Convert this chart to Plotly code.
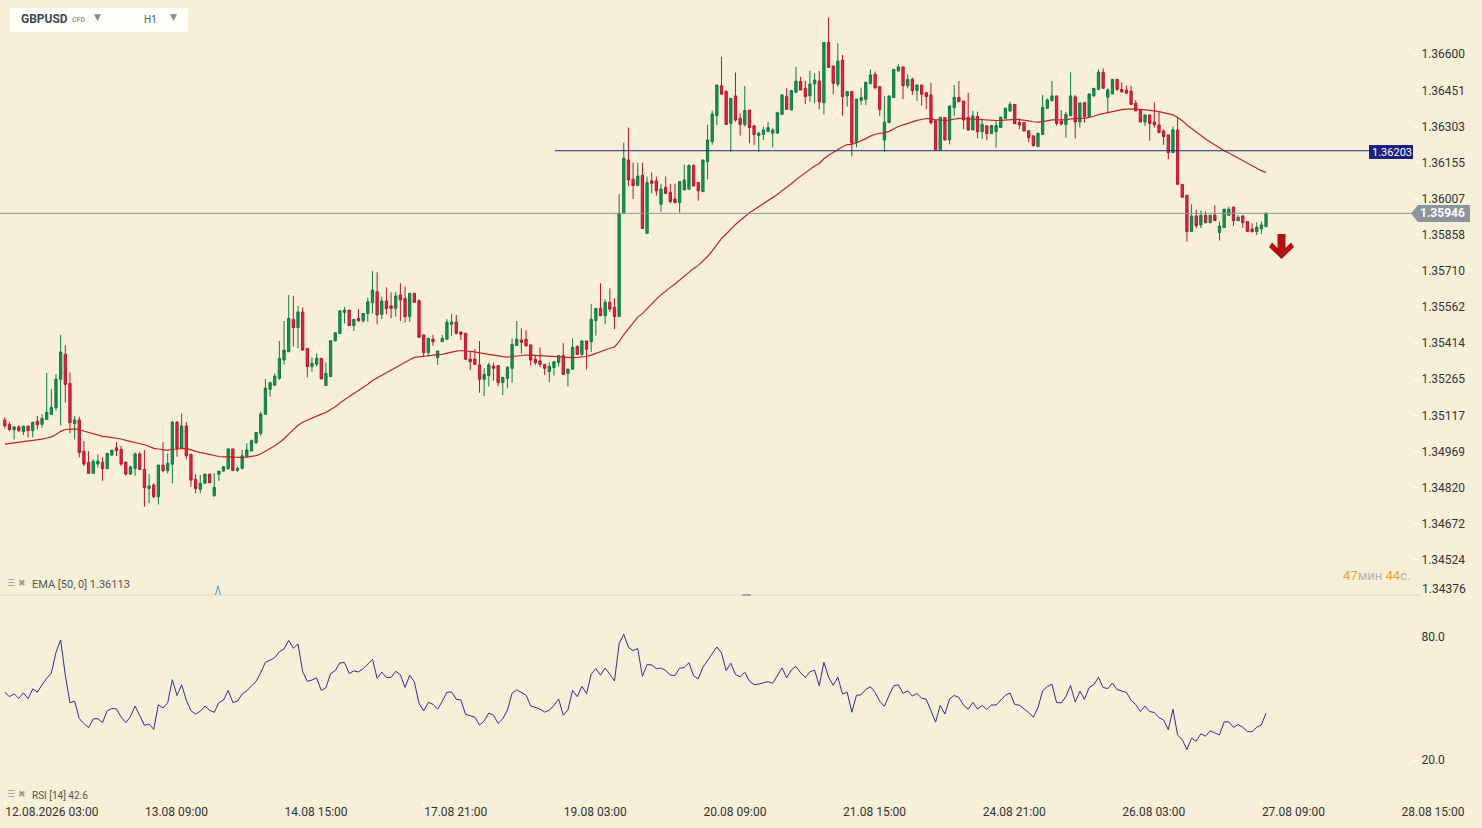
import numpy as np
import plotly.graph_objects as go

# --- H1 GBPUSD candles, 12.08.2026 03:00 onwards (weekend hours skipped) ---
OPEN = [
    1.35098, 1.35080, 1.35058, 1.35069, 1.35050, 1.35073, 1.35054, 1.35093, 1.35080, 1.35100,
    1.35121, 1.35148, 1.35265, 1.35368, 1.35248, 1.35083, 1.35098, 1.34970, 1.34924, 1.34879,
    1.34917, 1.34924, 1.34898, 1.34954, 1.34984, 1.34977, 1.34924, 1.34876, 1.34898, 1.34958,
    1.34895, 1.34817, 1.34831, 1.34783, 1.34913, 1.34890, 1.34916, 1.35089, 1.34981, 1.35073,
    1.34957, 1.34854, 1.34813, 1.34838, 1.34876, 1.34787, 1.34875, 1.34888, 1.34897, 1.34979,
    1.34890, 1.34899, 1.34947, 1.34970, 1.35005, 1.35043, 1.35121, 1.35224, 1.35241, 1.35269,
    1.35344, 1.35378, 1.35511, 1.35477, 1.35541, 1.35392, 1.35317, 1.35327, 1.35351, 1.35239,
    1.35276, 1.35422, 1.35453, 1.35539, 1.35549, 1.35485, 1.35515, 1.35505, 1.35535, 1.35579,
    1.35624, 1.35531, 1.35586, 1.35566, 1.35556, 1.35611, 1.35597, 1.35522, 1.35618, 1.35587,
    1.35447, 1.35374, 1.35430, 1.35354, 1.35419, 1.35429, 1.35491, 1.35500, 1.35459, 1.35454,
    1.35348, 1.35348, 1.35324, 1.35265, 1.35280, 1.35319, 1.35321, 1.35252, 1.35269, 1.35310,
    1.35403, 1.35426, 1.35429, 1.35406, 1.35347, 1.35340, 1.35326, 1.35296, 1.35313, 1.35334,
    1.35362, 1.35289, 1.35306, 1.35399, 1.35367, 1.35422, 1.35419, 1.35505, 1.35556, 1.35526,
    1.35581, 1.35560, 1.35522, 1.35946, 1.36165, 1.36086, 1.36060, 1.36102, 1.35864, 1.36079,
    1.36079, 1.35983, 1.36053, 1.36032, 1.36005, 1.35990, 1.36042, 1.36045, 1.36142, 1.36073,
    1.36035, 1.36158, 1.36240, 1.36347, 1.36470, 1.36446, 1.36316, 1.36428, 1.36336, 1.36311,
    1.36370, 1.36305, 1.36265, 1.36270, 1.36281, 1.36275, 1.36275, 1.36352, 1.36425, 1.36370,
    1.36443, 1.36487, 1.36459, 1.36429, 1.36477, 1.36489, 1.36400, 1.36647, 1.36551, 1.36476,
    1.36575, 1.36428, 1.36446, 1.36236, 1.36410, 1.36414, 1.36478, 1.36517, 1.36466, 1.36247,
    1.36318, 1.36421, 1.36530, 1.36547, 1.36470, 1.36496, 1.36450, 1.36473, 1.36441, 1.36432,
    1.36326, 1.36206, 1.36339, 1.36247, 1.36380, 1.36422, 1.36407, 1.36340, 1.36288, 1.36343,
    1.36281, 1.36305, 1.36273, 1.36281, 1.36298, 1.36336, 1.36366, 1.36393, 1.36319, 1.36319,
    1.36285, 1.36264, 1.36220, 1.36270, 1.36377, 1.36408, 1.36428, 1.36325, 1.36311, 1.36346,
    1.36424, 1.36321, 1.36400, 1.36343, 1.36429, 1.36455, 1.36525, 1.36422, 1.36436, 1.36496,
    1.36455, 1.36452, 1.36448, 1.36398, 1.36370, 1.36321, 1.36350, 1.36321, 1.36309, 1.36284,
    1.36268, 1.36195, 1.36288, 1.36065, 1.36020, 1.35871, 1.35935, 1.35898, 1.35938, 1.35908,
    1.35939, 1.35867, 1.35887, 1.35938, 1.35972, 1.35916, 1.35935, 1.35912, 1.35882, 1.35871,
    1.35882, 1.35891,
]
HIGH = [
    1.35109, 1.35089, 1.35073, 1.35076, 1.35073, 1.35073, 1.35091, 1.35114, 1.35121, 1.35292,
    1.35225, 1.35286, 1.35447, 1.35405, 1.35293, 1.35114, 1.35111, 1.35011, 1.34970, 1.34936,
    1.34957, 1.34944, 1.34961, 1.34974, 1.35007, 1.34991, 1.34929, 1.34911, 1.34965, 1.34966,
    1.34974, 1.34876, 1.34838, 1.34913, 1.35007, 1.34961, 1.35093, 1.35093, 1.35125, 1.35089,
    1.34957, 1.34875, 1.34872, 1.34876, 1.34876, 1.34879, 1.34888, 1.34909, 1.34979, 1.34979,
    1.34906, 1.34975, 1.35002, 1.35018, 1.35047, 1.35132, 1.35266, 1.35255, 1.35289, 1.35422,
    1.35504, 1.35611, 1.35607, 1.35566, 1.35560, 1.35392, 1.35355, 1.35371, 1.35351, 1.35334,
    1.35426, 1.35456, 1.35546, 1.35561, 1.35549, 1.35511, 1.35552, 1.35535, 1.35600, 1.35709,
    1.35704, 1.35604, 1.35642, 1.35622, 1.35624, 1.35659, 1.35645, 1.35618, 1.35618, 1.35593,
    1.35447, 1.35433, 1.35447, 1.35381, 1.35447, 1.35511, 1.35533, 1.35529, 1.35459, 1.35454,
    1.35378, 1.35389, 1.35422, 1.35310, 1.35333, 1.35333, 1.35321, 1.35273, 1.35319, 1.35432,
    1.35504, 1.35474, 1.35467, 1.35406, 1.35361, 1.35396, 1.35326, 1.35334, 1.35337, 1.35365,
    1.35413, 1.35310, 1.35433, 1.35404, 1.35426, 1.35422, 1.35573, 1.35556, 1.35659, 1.35593,
    1.35638, 1.35597, 1.36025, 1.36236, 1.36298, 1.36154, 1.36154, 1.36154, 1.36097, 1.36114,
    1.36097, 1.36067, 1.36097, 1.36067, 1.36067, 1.36076, 1.36147, 1.36147, 1.36147, 1.36073,
    1.36165, 1.36309, 1.36368, 1.36473, 1.36589, 1.36452, 1.36418, 1.36524, 1.36357, 1.36469,
    1.36370, 1.36309, 1.36281, 1.36302, 1.36322, 1.36295, 1.36363, 1.36435, 1.36459, 1.36452,
    1.36548, 1.36507, 1.36489, 1.36530, 1.36521, 1.36530, 1.36647, 1.36751, 1.36551, 1.36644,
    1.36596, 1.36446, 1.36446, 1.36415, 1.36462, 1.36484, 1.36537, 1.36528, 1.36466, 1.36428,
    1.36428, 1.36537, 1.36558, 1.36547, 1.36517, 1.36503, 1.36473, 1.36473, 1.36441, 1.36482,
    1.36326, 1.36340, 1.36339, 1.36387, 1.36473, 1.36489, 1.36407, 1.36441, 1.36367, 1.36363,
    1.36332, 1.36305, 1.36307, 1.36325, 1.36341, 1.36381, 1.36404, 1.36393, 1.36336, 1.36319,
    1.36288, 1.36264, 1.36278, 1.36432, 1.36418, 1.36489, 1.36428, 1.36370, 1.36363, 1.36525,
    1.36432, 1.36399, 1.36404, 1.36439, 1.36459, 1.36537, 1.36541, 1.36459, 1.36496, 1.36496,
    1.36484, 1.36470, 1.36469, 1.36411, 1.36370, 1.36350, 1.36350, 1.36402, 1.36366, 1.36291,
    1.36268, 1.36302, 1.36340, 1.36065, 1.36020, 1.35983, 1.35960, 1.35957, 1.35953, 1.35938,
    1.35979, 1.35912, 1.35965, 1.35973, 1.35972, 1.35938, 1.35939, 1.35912, 1.35905, 1.35909,
    1.35912, 1.35950,
]
LOW = [
    1.35063, 1.35052, 1.35018, 1.35048, 1.35036, 1.35026, 1.35026, 1.35059, 1.35066, 1.35100,
    1.35121, 1.35136, 1.35076, 1.35169, 1.35043, 1.35018, 1.34944, 1.34909, 1.34879, 1.34879,
    1.34903, 1.34848, 1.34898, 1.34950, 1.34950, 1.34909, 1.34869, 1.34872, 1.34869, 1.34895,
    1.34742, 1.34756, 1.34776, 1.34751, 1.34883, 1.34879, 1.34838, 1.34947, 1.34981, 1.34936,
    1.34824, 1.34797, 1.34797, 1.34838, 1.34840, 1.34783, 1.34847, 1.34886, 1.34897, 1.34890,
    1.34886, 1.34895, 1.34947, 1.34970, 1.34999, 1.35032, 1.35121, 1.35193, 1.35237, 1.35262,
    1.35326, 1.35378, 1.35399, 1.35392, 1.35382, 1.35273, 1.35296, 1.35317, 1.35266, 1.35239,
    1.35276, 1.35422, 1.35453, 1.35494, 1.35485, 1.35463, 1.35501, 1.35497, 1.35501, 1.35535,
    1.35490, 1.35512, 1.35531, 1.35515, 1.35522, 1.35504, 1.35497, 1.35501, 1.35581, 1.35437,
    1.35358, 1.35358, 1.35403, 1.35324, 1.35419, 1.35429, 1.35443, 1.35449, 1.35426, 1.35344,
    1.35303, 1.35324, 1.35210, 1.35196, 1.35235, 1.35259, 1.35237, 1.35200, 1.35228, 1.35251,
    1.35403, 1.35371, 1.35399, 1.35321, 1.35324, 1.35314, 1.35282, 1.35252, 1.35280, 1.35317,
    1.35285, 1.35235, 1.35303, 1.35365, 1.35361, 1.35306, 1.35376, 1.35444, 1.35526, 1.35491,
    1.35542, 1.35471, 1.35522, 1.35946, 1.36058, 1.36005, 1.36060, 1.35884, 1.35864, 1.36028,
    1.36019, 1.35953, 1.36026, 1.35987, 1.35987, 1.35949, 1.36042, 1.36045, 1.36058, 1.35998,
    1.36035, 1.36086, 1.36227, 1.36309, 1.36435, 1.36311, 1.36199, 1.36322, 1.36265, 1.36302,
    1.36234, 1.36227, 1.36199, 1.36247, 1.36281, 1.36217, 1.36275, 1.36352, 1.36373, 1.36370,
    1.36443, 1.36452, 1.36394, 1.36404, 1.36398, 1.36373, 1.36352, 1.36545, 1.36435, 1.36466,
    1.36347, 1.36384, 1.36179, 1.36217, 1.36391, 1.36391, 1.36478, 1.36455, 1.36346, 1.36199,
    1.36318, 1.36421, 1.36530, 1.36415, 1.36459, 1.36432, 1.36408, 1.36388, 1.36374, 1.36309,
    1.36206, 1.36206, 1.36247, 1.36229, 1.36346, 1.36404, 1.36291, 1.36285, 1.36288, 1.36254,
    1.36251, 1.36246, 1.36273, 1.36216, 1.36298, 1.36336, 1.36363, 1.36314, 1.36292, 1.36284,
    1.36238, 1.36220, 1.36220, 1.36267, 1.36374, 1.36408, 1.36306, 1.36306, 1.36257, 1.36346,
    1.36253, 1.36298, 1.36318, 1.36343, 1.36422, 1.36455, 1.36459, 1.36361, 1.36436, 1.36448,
    1.36441, 1.36439, 1.36393, 1.36366, 1.36321, 1.36304, 1.36244, 1.36298, 1.36277, 1.36227,
    1.36168, 1.36195, 1.36065, 1.36012, 1.35830, 1.35871, 1.35885, 1.35885, 1.35905, 1.35905,
    1.35916, 1.35834, 1.35887, 1.35938, 1.35894, 1.35916, 1.35887, 1.35871, 1.35867, 1.35857,
    1.35861, 1.35891,
]
CLOSE = [
    1.35074, 1.35059, 1.35069, 1.35054, 1.35073, 1.35054, 1.35088, 1.35078, 1.35104, 1.35129,
    1.35150, 1.35265, 1.35377, 1.35244, 1.35087, 1.35098, 1.34964, 1.34917, 1.34879, 1.34928,
    1.34929, 1.34898, 1.34961, 1.34974, 1.34972, 1.34917, 1.34876, 1.34905, 1.34958, 1.34895,
    1.34820, 1.34827, 1.34783, 1.34913, 1.34890, 1.34920, 1.35089, 1.34981, 1.35073, 1.34951,
    1.34851, 1.34817, 1.34838, 1.34876, 1.34840, 1.34821, 1.34888, 1.34906, 1.34979, 1.34890,
    1.34899, 1.34951, 1.34975, 1.35013, 1.35047, 1.35122, 1.35228, 1.35251, 1.35278, 1.35351,
    1.35385, 1.35515, 1.35477, 1.35541, 1.35385, 1.35317, 1.35330, 1.35351, 1.35266, 1.35289,
    1.35423, 1.35456, 1.35546, 1.35549, 1.35485, 1.35511, 1.35505, 1.35535, 1.35583, 1.35631,
    1.35529, 1.35586, 1.35556, 1.35556, 1.35607, 1.35590, 1.35522, 1.35618, 1.35581, 1.35437,
    1.35374, 1.35433, 1.35419, 1.35381, 1.35433, 1.35499, 1.35500, 1.35454, 1.35449, 1.35347,
    1.35337, 1.35326, 1.35265, 1.35285, 1.35324, 1.35310, 1.35252, 1.35273, 1.35314, 1.35408,
    1.35429, 1.35417, 1.35402, 1.35344, 1.35333, 1.35326, 1.35310, 1.35317, 1.35337, 1.35362,
    1.35285, 1.35306, 1.35396, 1.35367, 1.35422, 1.35388, 1.35511, 1.35556, 1.35526, 1.35581,
    1.35553, 1.35522, 1.35946, 1.36172, 1.36083, 1.36060, 1.36099, 1.35884, 1.36072, 1.36069,
    1.36038, 1.36046, 1.36028, 1.35994, 1.35990, 1.36076, 1.36083, 1.36142, 1.36058, 1.36038,
    1.36165, 1.36247, 1.36354, 1.36473, 1.36435, 1.36311, 1.36418, 1.36329, 1.36311, 1.36368,
    1.36298, 1.36270, 1.36275, 1.36288, 1.36298, 1.36288, 1.36359, 1.36432, 1.36373, 1.36450,
    1.36489, 1.36452, 1.36425, 1.36477, 1.36493, 1.36404, 1.36647, 1.36545, 1.36480, 1.36571,
    1.36425, 1.36446, 1.36234, 1.36415, 1.36421, 1.36484, 1.36514, 1.36462, 1.36373, 1.36320,
    1.36428, 1.36537, 1.36547, 1.36470, 1.36496, 1.36450, 1.36473, 1.36435, 1.36425, 1.36318,
    1.36206, 1.36340, 1.36247, 1.36387, 1.36422, 1.36404, 1.36329, 1.36288, 1.36346, 1.36281,
    1.36311, 1.36273, 1.36307, 1.36307, 1.36341, 1.36377, 1.36393, 1.36314, 1.36309, 1.36284,
    1.36257, 1.36224, 1.36274, 1.36381, 1.36411, 1.36428, 1.36315, 1.36313, 1.36352, 1.36428,
    1.36321, 1.36399, 1.36343, 1.36436, 1.36459, 1.36525, 1.36459, 1.36452, 1.36496, 1.36455,
    1.36445, 1.36439, 1.36393, 1.36366, 1.36321, 1.36350, 1.36315, 1.36309, 1.36277, 1.36261,
    1.36195, 1.36289, 1.36065, 1.36012, 1.35871, 1.35935, 1.35895, 1.35938, 1.35908, 1.35938,
    1.35916, 1.35894, 1.35963, 1.35963, 1.35916, 1.35930, 1.35908, 1.35871, 1.35871, 1.35889,
    1.35898, 1.35946,
]

X_LABELS = ["12.08.2026 03:00", "13.08 09:00", "14.08 15:00", "17.08 21:00", "19.08 03:00",
            "20.08 09:00", "21.08 15:00", "24.08 21:00", "26.08 03:00", "27.08 09:00", "28.08 15:00"]
LABEL_STEP = 30  # one label every 30 hourly bars
PRICE_TICKS = [1.36600, 1.36451, 1.36303, 1.36155, 1.36007, 1.35858, 1.35710, 1.35562,
               1.35414, 1.35265, 1.35117, 1.34969, 1.34820, 1.34672, 1.34524]
RSI_TICKS = [20, 80]

LAST_PRICE = 1.35946
TREND_LEVEL = 1.36203
TREND_START = 118.2          # bar index where the drawn level starts
EMA_START = 1.34999          # EMA value at the first visible bar
RSI_SEED = (0.000150, 0.000133)  # Wilder avg gain / loss before first bar

BG = "#f7efd8"
W, H, PLOT_W = 1482, 828, 1412


def px(x):
    return x / PLOT_W


def py(y):
    return 1 - y / H


close = np.array(CLOSE)
idx = np.arange(len(close))

# EMA 50
alpha = 2 / 51
ema = np.empty_like(close)
ema[0] = EMA_START
for i in range(1, len(close)):
    ema[i] = ema[i - 1] + alpha * (close[i] - ema[i - 1])

# RSI 14 (Wilder)
g, l = RSI_SEED
rsi = np.empty_like(close)
rsi[0] = 100 - 100 / (1 + g / l)
for i in range(1, len(close)):
    d = close[i] - close[i - 1]
    g = (g * 13 + max(d, 0)) / 14
    l = (l * 13 + max(-d, 0)) / 14
    rsi[i] = 100 - 100 / (1 + g / l)

fig = go.Figure()

fig.add_trace(go.Candlestick(
    x=idx, open=OPEN, high=HIGH, low=LOW, close=CLOSE,
    increasing=dict(line=dict(color="#0f7a45", width=1), fillcolor="#17904f"),
    decreasing=dict(line=dict(color="#b8162d", width=1), fillcolor="#e0263f"),
    whiskerwidth=0, showlegend=False, hoverinfo="skip",
))
fig.add_trace(go.Scatter(
    x=idx, y=ema, mode="lines", line=dict(color="#c0242b", width=1.2),
    showlegend=False, hoverinfo="skip",
))
fig.add_trace(go.Scatter(
    x=idx, y=rsi, yaxis="y2", mode="lines", line=dict(color="#2e3192", width=1),
    showlegend=False, hoverinfo="skip",
))

shapes = [
    # last price line
    dict(type="line", xref="paper", yref="y", x0=0, x1=1, y0=LAST_PRICE, y1=LAST_PRICE,
         line=dict(color="#8c959b", width=1)),
    # drawn horizontal level
    dict(type="line", xref="x", yref="y", x0=TREND_START, x1=(PLOT_W - 4.8) / 4.654,
         y0=TREND_LEVEL, y1=TREND_LEVEL, line=dict(color="#1f2a80", width=1)),
    # pane separator
    dict(type="line", xref="paper", yref="paper", x0=0, x1=px(1420), y0=py(595), y1=py(595),
         line=dict(color="#dcd8cc", width=1)),
    dict(type="line", xref="paper", yref="paper", x0=px(742), x1=px(751), y0=py(595), y1=py(595),
         line=dict(color="#aaaaaa", width=2)),
    # symbol box
    dict(type="rect", xref="paper", yref="paper", x0=px(10), x1=px(188), y0=py(32), y1=py(8),
         fillcolor="#fffdf8", line=dict(width=0)),
    # level label box
    dict(type="rect", xref="paper", yref="paper", x0=px(1369), x1=px(1413), y0=py(159), y1=py(145),
         fillcolor="#1c2180", line=dict(width=0)),
    # last price tag
    dict(type="path", xref="paper", yref="paper", fillcolor="#8a949a", line=dict(width=0),
         path="M {} {} L {} {} L {} {} L {} {} L {} {} Z".format(
             px(1411), py(213.5), px(1418), py(205), px(1470), py(205),
             px(1470), py(222), px(1418), py(222))),
    # sell arrow
    dict(type="path", xref="paper", yref="paper", fillcolor="#b3110f", line=dict(width=0),
         path="M {} {} L {} {} L {} {} L {} {} L {} {} L {} {} L {} {} L {} {} L {} {} Z".format(
             px(1277.5), py(234), px(1285.5), py(234), px(1285.5), py(248),
             px(1291), py(242.5), px(1294), py(247), px(1281.5), py(259),
             px(1269), py(247), px(1272), py(242.5), px(1277.5), py(248))),
    # small marker on the separator
    dict(type="path", xref="paper", yref="paper", line=dict(color="#3aa0e0", width=1),
         path="M {} {} L {} {} L {} {}".format(px(215.5), py(595), px(218), py(586),
                                               px(220.5), py(595))),
]

annotations = [
    dict(x=px(19), y=py(19), text="<b>GBPUSD</b>", font=dict(size=12, color="#3d4852")),
    dict(x=px(70), y=py(20), text="<b>CFD</b>", font=dict(size=7, color="#9aa0a6")),
    dict(x=px(92), y=py(17), text="▼", font=dict(size=9, color="#8a8a8a", family="DejaVu Sans")),
    dict(x=px(142), y=py(20), text="H1", font=dict(size=10, color="#555b61")),
    dict(x=px(168), y=py(17), text="▼", font=dict(size=9, color="#8a8a8a", family="DejaVu Sans")),
    dict(x=px(1370), y=py(152), text="1.36203", font=dict(size=11, color="#ffffff")),
    dict(x=px(1418), y=py(213.5), text="<b>1.35946</b>", font=dict(size=12, color="#ffffff")),
    dict(x=px(1420), y=py(589), text="1.34376", font=dict(size=12, color="#333333")),
    dict(x=px(1341), y=py(575),
         text="<span style='color:#f7a21b'>47</span><span style='color:#b3b3b3'>мин </span>"
              "<span style='color:#f7a21b'>44</span><span style='color:#b3b3b3'>с.</span>",
         font=dict(size=13)),
    dict(x=px(5), y=py(583), text="☰ ✖", font=dict(size=9, color="#9a9a9a", family="DejaVu Sans")),
    dict(x=px(30), y=py(584), text="EMA [50, 0] 1.36113", font=dict(size=11, color="#555555")),
    dict(x=px(5), y=py(794), text="☰ ✖", font=dict(size=9, color="#9a9a9a", family="DejaVu Sans")),
    dict(x=px(30), y=py(795), text="RSI [14] 42.6", font=dict(size=10, color="#555555")),
]
for a in annotations:
    a.update(xref="paper", yref="paper", xanchor="left", yanchor="middle", showarrow=False)

fig.update_layout(
    width=W, height=H,
    margin=dict(l=0, r=W - PLOT_W, t=0, b=0),
    paper_bgcolor=BG, plot_bgcolor=BG,
    font=dict(family="Roboto", size=12, color="#333333"),
    showlegend=False,
    xaxis=dict(
        domain=[0, 1], anchor="y2",
        range=[-4.8 / 4.654, (PLOT_W - 4.8) / 4.654],
        tickvals=[i * LABEL_STEP for i in range(len(X_LABELS))], ticktext=X_LABELS,
        ticklabelposition="outside right", ticks="outside", ticklen=3, tickcolor="#ffffff",
        tickfont=dict(size=12, color="#333333"),
        showgrid=False, zeroline=False, showline=False,
        rangeslider=dict(visible=False),
    ),
    yaxis=dict(
        domain=[py(595), 1], anchor="x", side="right",
        range=[1.366 - 541 / 24363, 1.366 + 54 / 24363],
        tickvals=PRICE_TICKS, tickformat=".5f",
        ticks="outside", ticklen=6, tickcolor="#ffffff",
        showgrid=False, zeroline=False, showline=False,
    ),
    yaxis2=dict(
        domain=[py(801), py(596)], anchor="x", side="right",
        range=[0, 100], tickvals=RSI_TICKS, ticktext=["20.0", "80.0"],
        ticks="outside", ticklen=6, tickcolor="#ffffff",
        showgrid=False, zeroline=False, showline=False,
    ),
    shapes=shapes,
    annotations=annotations,
)

# page margin off so the chart sits at the window origin
fig.write_html("out.html", config={"displayModeBar": False},
               post_script="document.body.style.margin='0';")
